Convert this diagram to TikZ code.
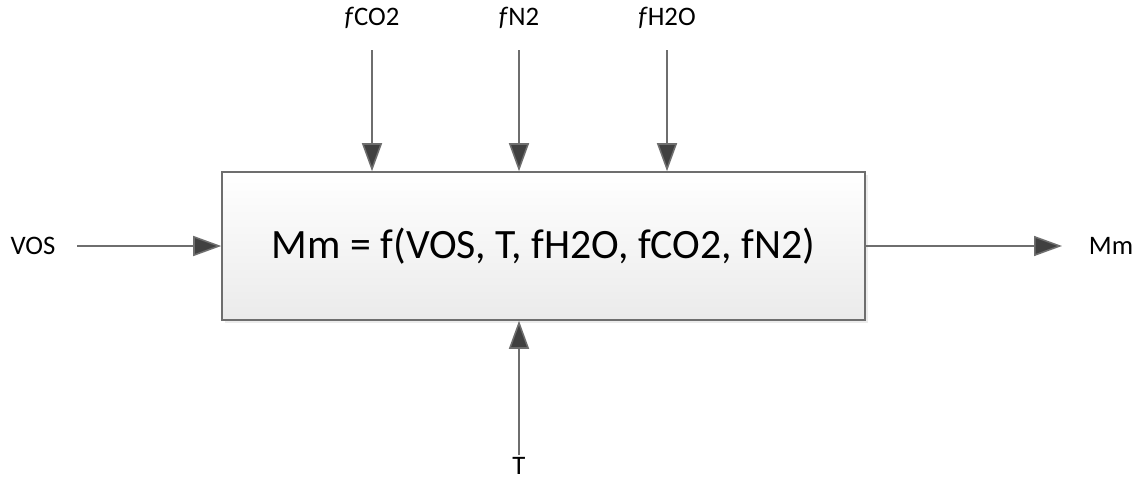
\documentclass[tikz,border=0pt]{standalone}
\usepackage{fontspec}
\setmainfont{Carlito}
\usepackage{xcolor}
\usetikzlibrary{arrows.meta,positioning,shadows}

\definecolor{linegray}{RGB}{110,110,110}
\definecolor{tipgray}{RGB}{64,64,64}

\begin{document}
\begin{tikzpicture}[
  x=0.025cm, y=-0.025cm,
  block/.style={draw=linegray, line width=1.1pt, minimum width=643*0.025cm, minimum height=148*0.025cm,
    top color=white, bottom color=black!8, drop shadow={shadow xshift=2pt, shadow yshift=-2pt, fill=black!12, opacity=0.6}},
  lbl/.style={font=\fontsize{19}{22}\selectfont, inner sep=0pt},
  arr/.style={-{Triangle[length=7mm, width=5mm, fill=tipgray]}, draw=linegray, line width=1.1pt}
]
\useasboundingbox (0,0) rectangle (1144,480);
\node[block] (sys) at (543.5,246) {\fontsize{29.7}{34}\selectfont Mm = f(VOS, T, fH2O, fCO2, fN2)};
% inputs above
\node[lbl] (co2) at (372,18) {\textit{f}CO2};
\node[lbl] (n2) at (519,18) {\textit{f}N2};
\node[lbl] (h2o) at (667,18) {\textit{f}H2O};
\coordinate (co2s) at (372,50);
\coordinate (n2s) at (519,50);
\coordinate (h2os) at (667,50);
\draw[arr] (co2s) -- (co2s |- sys.north);
\draw[arr] (n2s) -- (n2s |- sys.north);
\draw[arr] (h2os) -- (h2os |- sys.north);
% left and right
\node[lbl] (vos) at (33,246) {VOS};
\node[lbl] (mm) at (1111,246) {Mm};
\coordinate (vose) at (77,246);
\coordinate (mme) at (1062,246);
\draw[arr] (vose) -- (sys.west);
\draw[arr] (sys.east) -- (mme);
% below
\node[lbl] (t) at (519,466) {T};
\coordinate (ts) at (519,455);
\draw[arr] (ts) -- (ts |- sys.south);
\end{tikzpicture}
\end{document}
